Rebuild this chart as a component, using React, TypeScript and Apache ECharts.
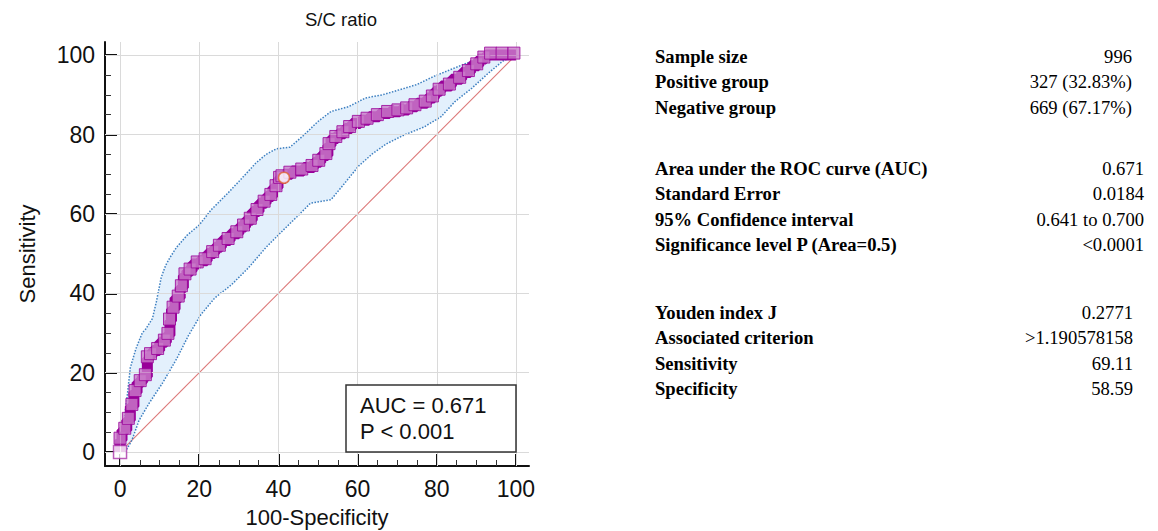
import React, { useEffect, useRef } from "react";
import * as echarts from "echarts";

// ROC curve (100-Specificity, Sensitivity)
const rocX = [0, 0.5, 1.7, 2.6, 3.5, 4.3, 5.6, 6.9, 7.4, 8.2, 10, 11.7, 12.6, 13, 13.9, 15.2, 16, 16.9, 18.2, 20, 22, 23.9, 25.6, 27.8, 30, 31.7, 33.4, 35.1, 36.9, 38.6, 39.9, 40.8, 41.4, 43.4, 46.4, 49, 50.7, 52.5, 53.3, 55, 56.8, 58.5, 60.7, 62.9, 65.5, 68.1, 70.7, 72.9, 75, 77.6, 79.4, 81.1, 83.7, 86.3, 88.5, 90.6, 92.4, 94.1, 97, 100];
const rocY = [0, 3, 5.5, 8, 11.5, 15, 17.5, 19, 23.5, 24.3, 25.6, 27.7, 29.4, 33, 36, 38.8, 41.4, 44.4, 45.6, 47.4, 48.2, 50, 51.6, 53.3, 55, 56.7, 58.4, 60.6, 62.7, 64.4, 66.6, 68.7, 69.1, 70, 70.8, 71.7, 73, 74.7, 77.2, 79, 80.2, 81.5, 82.8, 83.6, 84.5, 85.3, 85.7, 86.2, 87, 87.9, 89.2, 90.9, 92.2, 93.9, 95.6, 97.3, 99, 100, 100, 100];

// 95% confidence bounds
const upperX = [0, 0.3, 1, 1.8, 2.6, 4, 5.6, 6.5, 8.2, 9.2, 10.4, 11.5, 12.6, 14.3, 16.9, 20, 23, 25, 27.3, 30.8, 34.3, 36.9, 39.5, 42.9, 46.4, 49.9, 53.3, 57.7, 62, 66.3, 70.7, 75, 79.4, 84.6, 88.9, 94.1, 100];
const upperY = [0, 3, 8, 14, 21.3, 26, 30, 31, 33.7, 38, 44, 47, 49, 51.6, 54.6, 57.2, 61, 63, 65.3, 69, 72.8, 75, 76.4, 76.8, 79.8, 83.2, 85.8, 87, 89.2, 90, 91.3, 92.6, 94.7, 96.8, 98.5, 99.8, 100];
const lowerX = [1.3, 3, 4.8, 7.4, 10.8, 14.3, 17.3, 20.4, 23.9, 28.2, 32.5, 36.9, 41.2, 44.7, 48.1, 53.3, 56.8, 60.3, 63.7, 67.2, 71.6, 76.8, 81.1, 84.6, 88.9, 93.2, 96.7, 100];
const lowerY = [0, 3, 8, 12.4, 17.5, 23.5, 29.4, 34.6, 38.8, 42.2, 46.5, 51.6, 55.9, 59.3, 62.7, 63.6, 67.8, 72.1, 75.1, 77.6, 79.8, 81.9, 84.5, 88.3, 91.7, 95.6, 98.5, 100];

// Reference (chance) line
const diagX = [0, 100];
const diagY = [0, 100];

const youdenPoint = [41.41, 69.11];
const tickValues = [0, 20, 40, 60, 80, 100];

const statsGroups = [
  { rows: [["Sample size", "996"], ["Positive group", "327 (32.83%)"], ["Negative group", "669 (67.17%)"]], top: 56, right: 1132 },
  { rows: [["Area under the ROC curve (AUC)", "0.671"], ["Standard Error", "0.0184"], ["95% Confidence interval", "0.641 to 0.700"], ["Significance level P (Area=0.5)", "<0.0001"]], top: 168, right: 1144 },
  { rows: [["Youden index J", "0.2771"], ["Associated criterion", ">1.190578158"], ["Sensitivity", "69.11"], ["Specificity", "58.59"]], top: 312, right: 1133 },
];

const zip = (xs: number[], ys: number[]) => xs.map((x, i) => [x, ys[i]]);

export default function App() {
  const ref = useRef<HTMLDivElement>(null);
  useEffect(() => {
    document.body.style.margin = "0";
    const chart = echarts.init(ref.current!, null, { renderer: "svg" });
    const sans = "Liberation Sans, Arial, sans-serif";
    const serif = '"Liberation Serif", "Times New Roman", serif';

    const graphics: any[] = [];
    statsGroups.forEach((g) => {
      g.rows.forEach((r, i) => {
        const y = g.top + i * 25.5;
        graphics.push({
          type: "text", x: 655, y,
          style: { text: r[0], font: `bold 18.6px ${serif}`, fill: "#000", align: "left", verticalAlign: "middle" },
        });
        graphics.push({
          type: "text", x: g.right, y,
          style: { text: r[1], font: `18.6px ${serif}`, fill: "#000", align: "right", verticalAlign: "middle" },
        });
      });
    });
    graphics.push({
      type: "rect", shape: { x: 346, y: 385, width: 170, height: 67 },
      style: { fill: "#fff", stroke: "#333", lineWidth: 1.5 }, z: 100,
    });
    graphics.push({
      type: "text", x: 360, y: 405, z: 101,
      style: { text: "AUC = 0.671", font: `22px ${sans}`, fill: "#111", align: "left", verticalAlign: "middle" },
    });
    graphics.push({
      type: "text", x: 360, y: 431, z: 101,
      style: { text: "P < 0.001", font: `22px ${sans}`, fill: "#111", align: "left", verticalAlign: "middle" },
    });

    const axisCommon = {
      type: "value",
      axisLine: { show: true, onZero: false, lineStyle: { color: "#111", width: 2 } },
      axisTick: { show: true, inside: true, length: 12, customValues: tickValues, lineStyle: { color: "#111", width: 2 } },
      minorTick: { show: true, splitNumber: 4, length: 6, lineStyle: { color: "#333", width: 1 } },
      axisLabel: { customValues: tickValues, fontSize: 23, color: "#111", fontFamily: sans, margin: 10 },
      splitLine: { show: false },
      nameLocation: "middle",
      nameTextStyle: { fontSize: 22, color: "#111", fontFamily: sans },
    };

    chart.setOption({
      animation: false,
      title: {
        text: "S/C ratio", left: 336, top: 5, textAlign: "center",
        textStyle: { fontSize: 18.5, fontWeight: "normal", color: "#111", fontFamily: sans },
      },
      grid: { left: 105, right: 629, top: 42, bottom: 65, containLabel: false, outerBoundsMode: "none" },
      xAxis: { ...axisCommon, min: -3.8, max: 103.3, name: "100-Specificity", nameGap: 40, axisLabel: { ...axisCommon.axisLabel, margin: 11 } },
      yAxis: { ...axisCommon, min: -3.5, max: 103.3, name: "Sensitivity", nameGap: 67 },
      graphic: graphics,
      series: [
        {
          type: "line", data: [], z: 0, silent: true,
          markLine: {
            silent: true, symbol: ["none", "none"], label: { show: false },
            lineStyle: { color: "#dadada", width: 1, type: "solid" },
            data: [...tickValues.map((v) => ({ xAxis: v })), ...tickValues.map((v) => ({ yAxis: v }))],
          },
        },
        {
          type: "custom", data: [[0, 0]], z: 1, silent: true, clip: true,
          renderItem: (_p: any, api: any) => {
            const pts: number[][] = [];
            upperX.forEach((x, i) => pts.push(api.coord([x, upperY[i]])));
            for (let i = lowerX.length - 1; i >= 0; i--) pts.push(api.coord([lowerX[i], lowerY[i]]));
            return { type: "polygon", shape: { points: pts }, style: { fill: "rgba(208,230,250,0.6)" } };
          },
        },
        {
          type: "line", data: zip(diagX, diagY), z: 2, symbol: "none", silent: true,
          lineStyle: { color: "#dc7878", width: 1.1 },
        },
        {
          type: "line", data: zip(upperX, upperY), z: 3, symbol: "none", silent: true,
          lineStyle: { color: "#3d7fc0", width: 1.5, type: "dotted" },
        },
        {
          type: "line", data: zip(lowerX, lowerY), z: 3, symbol: "none", silent: true,
          lineStyle: { color: "#3d7fc0", width: 1.5, type: "dotted" },
        },
        {
          type: "line", data: zip(rocX, rocY), z: 4, symbol: "none", step: "start", silent: true,
          lineStyle: { color: "#990099", width: 11 },
        },
        {
          type: "scatter", data: zip(rocX, rocY).slice(1), z: 5, symbol: "rect", symbolSize: 12, symbolOffset: [-2, -2], silent: true,
          itemStyle: { color: "#c97cc9", borderColor: "#990099", borderWidth: 1 },
        },
        {
          type: "scatter", data: [[rocX[0], rocY[0]]], z: 6, symbol: "rect", symbolSize: 13, silent: true,
          itemStyle: { color: "#fff", borderColor: "#aa33aa", borderWidth: 1.5 },
        },
        {
          type: "scatter", data: [youdenPoint], z: 6, symbol: "circle", symbolSize: 11, silent: true,
          itemStyle: { color: "#fff", borderColor: "#e06030", borderWidth: 1.5 },
        },
      ],
    });
    return () => chart.dispose();
  }, []);
  return <div ref={ref} style={{ width: 1158, height: 531 }} />;
}
